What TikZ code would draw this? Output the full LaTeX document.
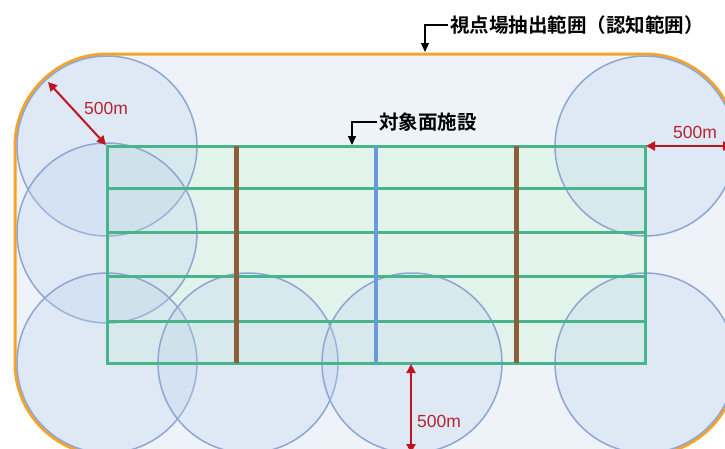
\documentclass[tikz,border=0pt]{standalone}
\usepackage{fontspec}
\setmainfont{Liberation Sans}
\newfontfamily\jp{Noto Sans CJK JP Bold}
\usetikzlibrary{arrows.meta}
\definecolor{orangeline}{HTML}{F5A329}
\definecolor{innerbg}{HTML}{EEF3FA}
\definecolor{circfill}{HTML}{BFD3EE}
\definecolor{circline}{HTML}{8EA6D1}
\definecolor{greenline}{HTML}{48B489}
\definecolor{greenfill}{HTML}{E2F3EC}
\definecolor{brownline}{HTML}{8C5E3A}
\definecolor{blueline}{HTML}{6B9BD6}
\definecolor{redarrow}{HTML}{C0141E}
\definecolor{redtext}{HTML}{B52530}
\begin{document}
\begin{tikzpicture}[x=1pt,y=-1pt,
  zone/.style={circline,line width=1.5pt,fill=circfill,fill opacity=0.3},
  gline/.style={greenline,line width=3pt},
  brownpost/.style={brownline,line width=5pt},
  bluepost/.style={blueline,line width=4.5pt},
  distarrow/.style={redarrow,line width=2pt,{Triangle[width=9pt,length=9pt]}-{Triangle[width=9pt,length=9pt]}},
  distlabel/.style={text=redtext,font=\fontsize{17.5}{17.5}\selectfont,inner sep=0pt},
  callout/.style={black,line width=1.3pt,-{Triangle[width=8pt,length=9pt]}},
  jplabel/.style={font=\jp\fontsize{19.5}{19.5}\selectfont,inner sep=0pt,anchor=west}]
\useasboundingbox (0,0) rectangle (725,448);
\clip (0,0) rectangle (725,448);
\fill[white] (0,0) rectangle (725,448);
% recognition range
\draw[orangeline,line width=3pt,fill=innerbg,rounded corners=92pt] (15,54) rectangle (737,455);
% facility
\fill[greenfill] (107,146) rectangle (645,363);
% coordinates
\coordinate (tl) at (107,146);
\coordinate (tr) at (645,146);
\coordinate (bl) at (107,363);
\coordinate (br) at (645,363);
% circles
\foreach \cx/\cy in {107/146,107/233,107/363,248/363,412/363,645/363,645/146}
  \draw[zone] (\cx,\cy) circle[radius=90];
% green grid
\foreach \yy in {188,232,276,321}
  \draw[gline] (107,\yy) -- (645,\yy);
\draw[gline] (tl) rectangle (br);
% posts
\draw[brownpost] (236,146) -- (236,363);
\draw[bluepost] (376,146) -- (376,363);
\draw[brownpost] (516,146) -- (516,363);
% distance arrows
\coordinate (d1a) at (48,82);
\coordinate (d1b) at (106,145);
\draw[distarrow] (d1a) -- (d1b);
\node[distlabel] (l1) at (106,108) {500m};
\coordinate (d2a) at (646,146);
\coordinate (d2b) at (732,146);
\draw[distarrow] (d2a) -- (d2b);
\node[distlabel] (l2) at (695,132) {500m};
\coordinate (d3a) at (411,364);
\coordinate (d3b) at (411,453);
\draw[distarrow] (d3a) -- (d3b);
\node[distlabel] (l3) at (439,421) {500m};
% labels
\node[jplabel] (range) at (450,25) {視点場抽出範囲（認知範囲）};
\coordinate (rangetip) at (425,52);
\draw[callout] ([xshift=-2pt]range.west) -| (rangetip);
\node[jplabel] (fac) at (379,122) {対象面施設};
\coordinate (factip) at (352,145);
\draw[callout] ([xshift=-2pt]fac.west) -| (factip);
\end{tikzpicture}
\end{document}
